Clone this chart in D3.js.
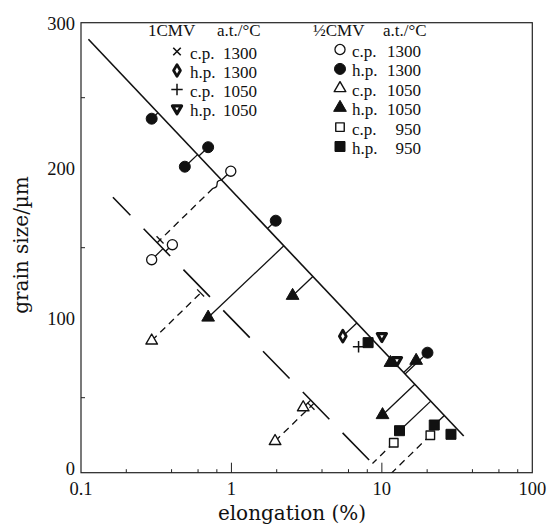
<!DOCTYPE html>
<html>
<head>
<meta charset="utf-8">
<script src="https://cdn.jsdelivr.net/npm/d3@7"></script>
<style>
  body { margin: 0; background: #fff; }
  text { font-family: "Liberation Serif", "Times New Roman", serif; fill: #111; }
  .title { font-family: "DejaVu Serif", serif; font-size: 20px; }
</style>
</head>
<body>
<svg id="chart" width="549" height="525"></svg>
<script>
// [elongation %, grain size um, link]  link: m = solid to main line, l2 = solid to shifted line,
// d2 = dashed to shifted line (d2t with end tick), m2 = to main line then dashed on to shifted line
const mainLine = [[0.112, 289], [35, 24.5]];
const shiftLine = [[0.163, 183.6], [8.67, 6.1]];

const halfHp1300 = [[0.295, 236, 'm'], [0.70, 217, 'm'], [0.49, 204, 'm'], [1.97, 168, 'm'], [20.1, 80, 'm']];
const halfCp1300 = [[0.99, 201, 'm2'], [0.405, 152, 'l2'], [0.295, 142, 'l2']];
const halfCp1050 = [[0.295, 88, 'd2t'], [3.0, 43.5, 'l2'], [1.95, 21, 'd2t']];
const halfHp1050 = [[0.70, 103.5, 'm'], [2.55, 118, 'm'], [11.4, 73.3, ''], [16.9, 74.7, 'm'], [10.1, 38.5, 'm']];
const halfCp950 = [[12.0, 20, 'd2'], [21.0, 25, 'd2']];
const halfHp950 = [[8.1, 86.7, ''], [13.1, 28, 'm'], [22.3, 31.8, 'm'], [28.8, 25.6, '']];

const oneCp1300 = [];
const oneHp1300 = [[5.5, 91, 'm']];
const oneCp1050 = [[7.0, 84, '']];
const oneHp1050 = [[10.0, 91, ''], [12.6, 75, '']];

const xTickLabels = [0.1, 1, 10, 100];
const xMinorMant = [2, 4, 6, 8];
const yTickLabels = [0, 100, 200, 300];
const yMinor = [50, 150, 250];

const oneLegend = [['c.p.', '1300'], ['h.p.', '1300'], ['c.p.', '1050'], ['h.p.', '1050']];
const halfLegend = [['c.p.', '1300'], ['h.p.', '1300'], ['c.p.', '1050'], ['h.p.', '1050'], ['c.p.', '950'], ['h.p.', '950']];

const plus = { draw(c, s) { const r = Math.sqrt(s) / 2; c.moveTo(-r, 0); c.lineTo(r, 0); c.moveTo(0, -r); c.lineTo(0, r); } };
const times = { draw(c, s) { const r = Math.sqrt(s) / 2.8; c.moveTo(-r, -r); c.lineTo(r, r); c.moveTo(-r, r); c.lineTo(r, -r); } };

const oneSeries = [
  { data: oneCp1300, type: times, size: 110, fill: 'none', sw: 1.6 },
  { data: oneHp1300, type: d3.symbolDiamond, size: 40, fill: '#fff', sw: 2.8 },
  { data: oneCp1050, type: plus, size: 130, fill: 'none', sw: 1.5 },
  { data: oneHp1050, type: d3.symbolTriangle, size: 36, fill: '#fff', sw: 3.2, rot: 180 }
];
const halfSeries = [
  { data: halfCp1300, type: d3.symbolCircle, size: 80, fill: '#fff', sw: 1.3 },
  { data: halfHp1300, type: d3.symbolCircle, size: 95, fill: '#111', sw: 1 },
  { data: halfCp1050, type: d3.symbolTriangle, size: 58, fill: '#fff', sw: 1.4 },
  { data: halfHp1050, type: d3.symbolTriangle, size: 70, fill: '#111', sw: 1 },
  { data: halfCp950, type: d3.symbolSquare, size: 72, fill: '#fff', sw: 1.4 },
  { data: halfHp950, type: d3.symbolSquare, size: 100, fill: '#111', sw: 1 }
];

const svg = d3.select('#chart');
const x = d3.scaleLog().domain([0.1, 100]).range([81, 532.3]);
const y = d3.scaleLinear().domain([0, 300]).range([472.7, 22.7]);

svg.append('clipPath').attr('id', 'plot')
  .append('rect').attr('x', 81).attr('y', 22.7).attr('width', 451.3).attr('height', 450);

// frame
svg.append('rect')
  .attr('x', x(0.1)).attr('y', y(300))
  .attr('width', x(100) - x(0.1)).attr('height', y(0) - y(300))
  .attr('fill', 'none').attr('stroke', '#222').attr('stroke-width', 1.2);

// x ticks
const xMinor = [];
[0.1, 1, 10].forEach(dec => xMinorMant.forEach(m => xMinor.push(dec * m)));
svg.selectAll('.xminor').data(xMinor).enter().append('line')
  .attr('x1', d => x(d)).attr('x2', d => x(d))
  .attr('y1', y(0)).attr('y2', y(0) - 3.5)
  .attr('stroke', '#222').attr('stroke-width', 1);
svg.selectAll('.xmajor').data([1, 10]).enter().append('line')
  .attr('x1', d => x(d)).attr('x2', d => x(d))
  .attr('y1', y(0)).attr('y2', y(0) - 10)
  .attr('stroke', '#222').attr('stroke-width', 1);
svg.selectAll('.xlab').data(xTickLabels).enter().append('text')
  .attr('x', d => x(d)).attr('y', 495)
  .attr('text-anchor', 'middle').style('font-size', '18.5px')
  .text(d => d);

// y ticks
svg.selectAll('.yminor').data(yMinor).enter().append('line')
  .attr('x1', x(0.1)).attr('x2', x(0.1) + 4)
  .attr('y1', d => y(d)).attr('y2', d => y(d))
  .attr('stroke', '#222').attr('stroke-width', 1);
svg.selectAll('.ylab').data(yTickLabels).enter().append('text')
  .attr('x', 75).attr('y', d => y(d) + (d === 300 ? 7 : 2.5))
  .attr('text-anchor', 'end').style('font-size', '18.5px')
  .text(d => d);

svg.append('text').attr('class', 'title')
  .attr('x', 292).attr('y', 520).attr('text-anchor', 'middle')
  .text('elongation (%)');
svg.append('text').attr('class', 'title')
  .attr('transform', 'translate(28,245) rotate(-90)').attr('text-anchor', 'middle')
  .text('grain size/\u00b5m');

// reference lines
const plot = svg.append('g').attr('clip-path', 'url(#plot)');
const line = d3.line().x(d => x(d[0])).y(d => y(d[1]));

plot.append('path').attr('d', line(mainLine))
  .attr('fill', 'none').attr('stroke', '#111').attr('stroke-width', 1.6);
plot.append('path').attr('d', line(shiftLine))
  .attr('fill', 'none').attr('stroke', '#111').attr('stroke-width', 1.6)
  .attr('stroke-dasharray', '38,19').attr('stroke-dashoffset', 13);

// perpendicular foot in pixel space
function foot(p, ref) {
  const a = [x(ref[0][0]), y(ref[0][1])], b = [x(ref[1][0]), y(ref[1][1])];
  const dx = b[0] - a[0], dy = b[1] - a[1];
  const t = ((p[0] - a[0]) * dx + (p[1] - a[1]) * dy) / (dx * dx + dy * dy);
  return [a[0] + t * dx, a[1] + t * dy];
}
function seg(p, q, dashed) {
  plot.append('line')
    .attr('x1', p[0]).attr('y1', p[1]).attr('x2', q[0]).attr('y2', q[1])
    .attr('stroke', '#111').attr('stroke-width', 1.3)
    .attr('stroke-dasharray', dashed ? '7,5' : null);
}
function tick(f, from, ref) {
  const a = [x(ref[0][0]), y(ref[0][1])], b = [x(ref[1][0]), y(ref[1][1])];
  const L = Math.hypot(b[0] - a[0], b[1] - a[1]);
  const u = [(b[0] - a[0]) / L, (b[1] - a[1]) / L];
  const nl = Math.hypot(from[0] - f[0], from[1] - f[1]);
  const n = [(from[0] - f[0]) / nl, (from[1] - f[1]) / nl];
  const c = [f[0] + 4 * n[0], f[1] + 4 * n[1]];
  seg([c[0] - 5 * u[0], c[1] - 5 * u[1]], [c[0] + 5 * u[0], c[1] + 5 * u[1]], false);
}

const allPoints = oneSeries.concat(halfSeries).flatMap(s => s.data);
allPoints.forEach(d => {
  const p = [x(d[0]), y(d[1])];
  const k = d[2];
  if (k === 'm') seg(p, foot(p, mainLine), false);
  if (k === 'l2') seg(p, foot(p, shiftLine), false);
  if (k === 'd2' || k === 'd2t') {
    const f = foot(p, shiftLine);
    seg(p, f, true);
    if (k === 'd2t') tick(f, p, shiftLine);
  }
  if (k === 'm2') {
    const fm = foot(p, mainLine);
    seg(p, fm, false);
    const f2 = foot(fm, shiftLine);
    const dl = Math.hypot(f2[0] - fm[0], f2[1] - fm[1]);
    const dv = [(f2[0] - fm[0]) / dl, (f2[1] - fm[1]) / dl];
    const w = [-dv[1], dv[0]];
    const sq = [0, 1, 2, 3].map(i => {
      const s = [0, 4, 8, 12][i], o = [0, 3, -2.5, 0][i];
      return [fm[0] + s * dv[0] + o * w[0], fm[1] + s * dv[1] + o * w[1]];
    });
    plot.append('path').attr('d', d3.line().curve(d3.curveBasis)(sq))
      .attr('fill', 'none').attr('stroke', '#111').attr('stroke-width', 1.3);
    seg(sq[3], f2, true);
    tick(f2, fm, shiftLine);
  }
});

// markers
function drawSeries(g, s, pts) {
  g.selectAll(null).data(pts).enter().append('path')
    .attr('d', d3.symbol().type(s.type).size(s.size))
    .attr('transform', d => `translate(${d[0]},${d[1]})` + (s.rot ? ` rotate(${s.rot})` : ''))
    .attr('fill', s.fill).attr('stroke', '#111').attr('stroke-width', s.sw)
    .attr('stroke-linejoin', 'round');
}
const marks = svg.append('g');
oneSeries.concat(halfSeries).forEach(s => {
  drawSeries(marks, s, s.data.map(d => [x(d[0]), y(d[1])]));
});

// legends
const leg = svg.append('g').style('font-size', '17px');
leg.append('text').attr('x', 148).attr('y', 36).text('1CMV');
leg.append('text').attr('x', 217).attr('y', 36).text('a.t./\u00b0C');
leg.append('text').attr('x', 313).attr('y', 36).text('\u00bdCMV');
leg.append('text').attr('x', 383).attr('y', 36).text('a.t./\u00b0C');

oneLegend.forEach((r, i) => {
  const by = 58.5 + i * 19;
  drawSeries(leg, oneSeries[i], [[177, by - 7]]);
  leg.append('text').attr('x', 190).attr('y', by).text(r[0]);
  leg.append('text').attr('x', 257).attr('y', by).attr('text-anchor', 'end').text(r[1]);
});
halfLegend.forEach((r, i) => {
  const by = 57 + i * 19.4;
  drawSeries(leg, halfSeries[i], [[340, by - 7.5]]);
  leg.append('text').attr('x', 352).attr('y', by).text(r[0]);
  leg.append('text').attr('x', 421).attr('y', by).attr('text-anchor', 'end').text(r[1]);
});
</script>
</body>
</html>
